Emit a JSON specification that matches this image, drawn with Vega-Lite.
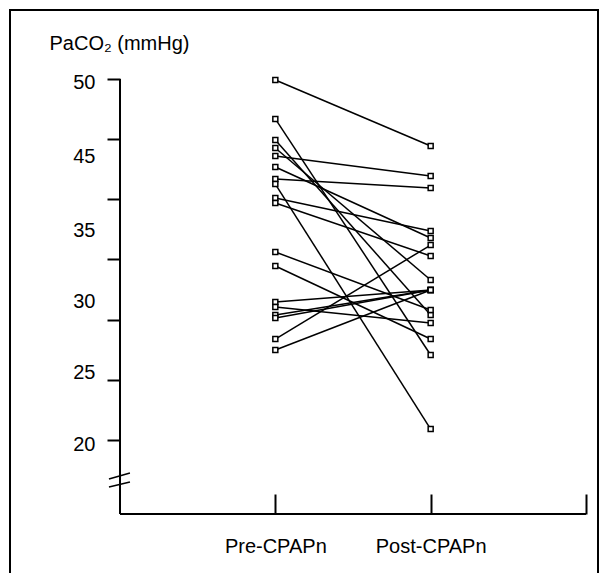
{
  "$schema": "https://vega.github.io/schema/vega-lite/v6.json",
  "width": 588,
  "height": 575,
  "autosize": {"type": "none"},
  "padding": {"left": 10, "top": 10, "right": 12, "bottom": 0},
  "background": "white",
  "config": {
    "view": {"stroke": "black", "strokeWidth": 2},
    "font": "Liberation Sans"
  },
  "data": {"values": [
    {"subject": 1, "time": 1, "paco2": 49.92}, {"subject": 1, "time": 2, "paco2": 44.43},
    {"subject": 2, "time": 1, "paco2": 46.68}, {"subject": 2, "time": 2, "paco2": 27.06},
    {"subject": 3, "time": 1, "paco2": 44.93}, {"subject": 3, "time": 2, "paco2": 30.39},
    {"subject": 4, "time": 1, "paco2": 44.27}, {"subject": 4, "time": 2, "paco2": 33.30},
    {"subject": 5, "time": 1, "paco2": 43.60}, {"subject": 5, "time": 2, "paco2": 41.94},
    {"subject": 6, "time": 1, "paco2": 42.69}, {"subject": 6, "time": 2, "paco2": 36.79},
    {"subject": 7, "time": 1, "paco2": 41.69}, {"subject": 7, "time": 2, "paco2": 40.94},
    {"subject": 8, "time": 1, "paco2": 41.27}, {"subject": 8, "time": 2, "paco2": 20.91},
    {"subject": 9, "time": 1, "paco2": 40.11}, {"subject": 9, "time": 2, "paco2": 37.37},
    {"subject": 10, "time": 1, "paco2": 39.69}, {"subject": 10, "time": 2, "paco2": 35.29},
    {"subject": 11, "time": 1, "paco2": 35.62}, {"subject": 11, "time": 2, "paco2": 30.80},
    {"subject": 12, "time": 1, "paco2": 34.46}, {"subject": 12, "time": 2, "paco2": 28.39},
    {"subject": 13, "time": 1, "paco2": 31.47}, {"subject": 13, "time": 2, "paco2": 32.47},
    {"subject": 14, "time": 1, "paco2": 31.05}, {"subject": 14, "time": 2, "paco2": 29.72},
    {"subject": 15, "time": 1, "paco2": 30.39}, {"subject": 15, "time": 2, "paco2": 32.47},
    {"subject": 16, "time": 1, "paco2": 30.14}, {"subject": 16, "time": 2, "paco2": 32.47},
    {"subject": 17, "time": 1, "paco2": 28.39}, {"subject": 17, "time": 2, "paco2": 36.20},
    {"subject": 18, "time": 1, "paco2": 27.48}, {"subject": 18, "time": 2, "paco2": 32.47}
  ]},
  "resolve": {"axis": {"x": "independent", "y": "independent"}},
  "layer": [
    {
      "mark": {"type": "line", "color": "black", "strokeWidth": 1.5},
      "encoding": {
        "x": {
          "field": "time", "type": "quantitative",
          "scale": {"domain": [-0.7082, 3.0773], "nice": false, "zero": false},
          "axis": {
            "orient": "bottom", "offset": -71, "values": [1, 2, 3],
            "domain": false, "grid": false, "title": null,
            "ticks": true, "tickSize": -20, "tickWidth": 2, "tickColor": "black",
            "labelExpr": "datum.value == 1 ? 'Pre-CPAPn' : datum.value == 2 ? 'Post-CPAPn' : ''",
            "labelPadding": 52, "labelBaseline": "middle", "labelFontSize": 20,
            "labelColor": "black", "labelFont": "Liberation Sans",
            "labelOverlap": false, "labelBound": false, "labelFlush": false
          }
        },
        "y": {
          "field": "paco2", "type": "quantitative",
          "scale": {"domain": [7.949, 55.734], "nice": false, "zero": false},
          "axis": {
            "orient": "left", "offset": -110, "values": [20, 25, 30, 35, 40, 45, 50],
            "domain": false, "grid": false, "labels": false, "title": null,
            "ticks": true, "tickSize": 13, "tickWidth": 2, "tickColor": "black"
          }
        },
        "detail": {"field": "subject", "type": "nominal"}
      }
    },
    {
      "mark": {"type": "point", "shape": "square", "filled": true, "fill": "white", "stroke": "black", "strokeWidth": 1.5, "size": 25, "opacity": 1},
      "encoding": {
        "x": {
          "field": "time", "type": "quantitative",
          "scale": {"domain": [-0.7082, 3.0773], "nice": false, "zero": false},
          "axis": null
        },
        "y": {
          "field": "paco2", "type": "quantitative",
          "scale": {"domain": [7.949, 55.734], "nice": false, "zero": false},
          "axis": {
            "orient": "left", "offset": -110,
            "values": [49.67, 43.56, 37.45, 31.55, 25.57, 19.62],
            "domain": false, "grid": false, "ticks": false,
            "labelPadding": 25, "labelFontSize": 20, "labelColor": "black",
            "labelFont": "Liberation Sans", "labelBaseline": "middle",
            "labelOverlap": false, "labelBound": false, "labelFlush": false,
            "labelExpr": "datum.value > 48 ? '50' : datum.value > 42 ? '45' : datum.value > 36 ? '35' : datum.value > 30 ? '30' : datum.value > 24 ? '25' : '20'",
            "title": "PaCO₂ (mmHg)", "titleAngle": 0, "titleX": -71, "titleY": 33,
            "titleAlign": "left", "titleBaseline": "middle", "titleFontSize": 20,
            "titleFontWeight": "normal", "titleColor": "black", "titleFont": "Liberation Sans"
          }
        }
      }
    },
    {
      "data": {"values": [{}]},
      "mark": {"type": "rule", "color": "black", "strokeWidth": 2},
      "encoding": {
        "x": {"datum": 0, "type": "quantitative", "scale": {"domain": [-0.7082, 3.0773], "nice": false, "zero": false}, "axis": null},
        "y": {"datum": 13.85, "type": "quantitative", "scale": {"domain": [7.949, 55.734], "nice": false, "zero": false}, "axis": null},
        "y2": {"datum": 50}
      }
    },
    {
      "data": {"values": [{}]},
      "mark": {"type": "rule", "color": "black", "strokeWidth": 2},
      "encoding": {
        "x": {"datum": 0, "type": "quantitative", "scale": {"domain": [-0.7082, 3.0773], "nice": false, "zero": false}, "axis": null},
        "x2": {"datum": 3},
        "y": {"datum": 13.85, "type": "quantitative", "scale": {"domain": [7.949, 55.734], "nice": false, "zero": false}, "axis": null}
      }
    },
    {
      "data": {"values": [{}]},
      "mark": {"type": "rule", "color": "black", "strokeWidth": 1.5},
      "encoding": {
        "x": {"datum": -0.071, "type": "quantitative", "scale": {"domain": [-0.7082, 3.0773], "nice": false, "zero": false}, "axis": null},
        "x2": {"datum": 0.064},
        "y": {"datum": 16.76, "type": "quantitative", "scale": {"domain": [7.949, 55.734], "nice": false, "zero": false}, "axis": null},
        "y2": {"datum": 17.26}
      }
    },
    {
      "data": {"values": [{}]},
      "mark": {"type": "rule", "color": "black", "strokeWidth": 1.5},
      "encoding": {
        "x": {"datum": -0.071, "type": "quantitative", "scale": {"domain": [-0.7082, 3.0773], "nice": false, "zero": false}, "axis": null},
        "x2": {"datum": 0.064},
        "y": {"datum": 16.09, "type": "quantitative", "scale": {"domain": [7.949, 55.734], "nice": false, "zero": false}, "axis": null},
        "y2": {"datum": 16.51}
      }
    }
  ]
}
